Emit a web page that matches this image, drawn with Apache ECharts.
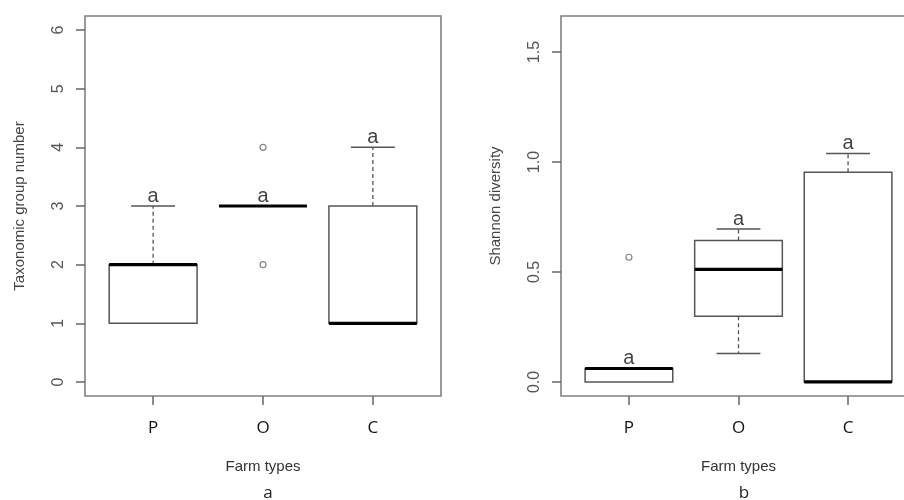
<!DOCTYPE html>
<html>
<head>
<meta charset="utf-8">
<script src="https://cdn.jsdelivr.net/npm/echarts@6.0.0/dist/echarts.min.js"></script>
<style>html,body{margin:0;padding:0;background:#fff}#c{width:904px;height:500px}</style>
</head>
<body>
<div id="c"></div>
<script>
// ---- data ----
const categories = ['P', 'O', 'C'];
// [position, min, q1, median, q3, max]
const taxonBoxes = [
  [1, 1, 1, 2, 2, 3],
  [2, 3, 3, 3, 3, 3],
  [3, 1, 1, 1, 3, 4]
];
const taxonOutliers = [[2, 4], [2, 2]];
const taxonLetters = [[1, 3], [2, 3], [3, 4]];

const shannonBoxes = [
  [1, 0, 0, 0.061, 0.061, 0.061],
  [2, 0.129, 0.299, 0.512, 0.643, 0.695],
  [3, 0, 0, 0, 0.953, 1.039]
];
const shannonOutliers = [[1, 0.567]];
const shannonLetters = [[1, 0.061], [2, 0.695], [3, 1.039]];

const taxonTicks = [0, 1, 2, 3, 4, 5, 6];
const shannonTicks = [0, 0.5, 1.0, 1.5];
const letterText = 'a';
const panelCaptions = ['a', 'b'];

// ---- style ----
const boxStroke = '#555';
const frameColor = '#808080';
const tickColor = '#666';
const labelColor = '#555';

function renderBox(params, api) {
  const x = api.value(0), mn = api.value(1), q1 = api.value(2),
        md = api.value(3), q3 = api.value(4), mx = api.value(5);
  const c = api.coord([x, md]);
  const cx = c[0];
  const yMd = c[1];
  const yQ1 = api.coord([x, q1])[1];
  const yQ3 = api.coord([x, q3])[1];
  const yMn = api.coord([x, mn])[1];
  const yMx = api.coord([x, mx])[1];
  const halfBox = api.size([0.8, 0])[0] / 2;
  const halfCap = api.size([0.4, 0])[0] / 2;
  const children = [];
  const whisk = {stroke: boxStroke, lineWidth: 1.3, lineDash: [4, 3]};
  const solid = {stroke: boxStroke, lineWidth: 1.5};
  if (mx > q3) {
    children.push({type: 'line', shape: {x1: cx, y1: yQ3, x2: cx, y2: yMx}, style: whisk});
    children.push({type: 'line', shape: {x1: cx - halfCap, y1: yMx, x2: cx + halfCap, y2: yMx}, style: solid});
  }
  if (mn < q1) {
    children.push({type: 'line', shape: {x1: cx, y1: yQ1, x2: cx, y2: yMn}, style: whisk});
    children.push({type: 'line', shape: {x1: cx - halfCap, y1: yMn, x2: cx + halfCap, y2: yMn}, style: solid});
  }
  children.push({type: 'rect', shape: {x: cx - halfBox, y: yQ3, width: 2 * halfBox, height: yQ1 - yQ3},
    style: {fill: '#fff', stroke: boxStroke, lineWidth: 1.5}});
  children.push({type: 'line', shape: {x1: cx - halfBox, y1: yMd, x2: cx + halfBox, y2: yMd},
    style: {stroke: '#000', lineWidth: 3.2}});
  return {type: 'group', children: children};
}

function makeX(idx, gridIndex) {
  return {
    type: 'value', gridIndex: gridIndex, min: 0.38, max: 3.62, position: 'bottom',
    splitLine: {show: false},
    axisLine: {show: false, onZero: false},
    axisTick: {show: true, customValues: [1, 2, 3], length: 9, lineStyle: {color: tickColor, width: 1.5}},
    axisLabel: {customValues: [1, 2, 3], formatter: v => categories[Math.round(v) - 1] || '',
      margin: 24, fontFamily: 'Open Sans', fontSize: 17, color: '#111'},
    name: 'Farm types', nameLocation: 'middle', nameGap: 63,
    nameTextStyle: {fontFamily: 'Liberation Sans', fontSize: 15, color: '#333'}
  };
}

function makeY(gridIndex, min, max, ticks, name, fmt) {
  return {
    type: 'value', gridIndex: gridIndex, min: min, max: max, position: 'left',
    splitLine: {show: false},
    axisLine: {show: false, onZero: false},
    axisTick: {show: true, customValues: ticks, length: 9, lineStyle: {color: tickColor, width: 1.5}},
    axisLabel: {customValues: ticks, rotate: 90, margin: 18, formatter: fmt,
      fontFamily: 'Liberation Sans', fontSize: 16, color: labelColor},
    name: name, nameLocation: 'middle', nameGap: 58, nameRotate: 90,
    nameTextStyle: {fontFamily: 'Liberation Sans', fontSize: 15, color: '#444'}
  };
}

function letterSeries(xi, yi, data) {
  return {
    type: 'scatter', xAxisIndex: xi, yAxisIndex: yi, data: data,
    symbolSize: 0, silent: true, z: 5,
    label: {show: true, position: 'top', distance: 0, formatter: () => letterText,
      fontFamily: 'Liberation Sans', fontSize: 20, color: '#111'}
  };
}

function outlierSeries(xi, yi, data) {
  return {
    type: 'scatter', xAxisIndex: xi, yAxisIndex: yi, data: data,
    symbol: 'circle', symbolSize: 6, silent: true, z: 4,
    itemStyle: {color: '#fff', borderColor: '#666', borderWidth: 1.2}
  };
}

const chart = echarts.init(document.getElementById('c'), null, {renderer: 'canvas'});
chart.setOption({
  animation: false,
  backgroundColor: '#fff',
  title: [
    {text: panelCaptions[0], left: 263, top: 480, textAlign: 'center',
      textStyle: {fontFamily: 'Open Sans', fontWeight: 'normal', fontSize: 17, color: '#222'}},
    {text: panelCaptions[1], left: 739, top: 480, textAlign: 'center',
      textStyle: {fontFamily: 'Open Sans', fontWeight: 'normal', fontSize: 17, color: '#222'}}
  ],
  grid: [
    {left: 85, top: 16, width: 356, height: 380, show: true, borderColor: frameColor, borderWidth: 1.6,
      backgroundColor: 'transparent', containLabel: false, outerBoundsMode: 'none'},
    {left: 561, top: 16, width: 355, height: 380, show: true, borderColor: frameColor, borderWidth: 1.6,
      backgroundColor: 'transparent', containLabel: false, outerBoundsMode: 'none'}
  ],
  xAxis: [makeX(0, 0), makeX(1, 1)],
  yAxis: [
    makeY(0, -0.24, 6.24, taxonTicks, 'Taxonomic group number', v => String(v)),
    makeY(1, -0.064, 1.664, shannonTicks, 'Shannon diversity', v => v.toFixed(1))
  ],
  series: [
    {type: 'custom', xAxisIndex: 0, yAxisIndex: 0, data: taxonBoxes, renderItem: renderBox, silent: true, z: 3},
    outlierSeries(0, 0, taxonOutliers),
    letterSeries(0, 0, taxonLetters),
    {type: 'custom', xAxisIndex: 1, yAxisIndex: 1, data: shannonBoxes, renderItem: renderBox, silent: true, z: 3},
    outlierSeries(1, 1, shannonOutliers),
    letterSeries(1, 1, shannonLetters)
  ]
});
</script>
</body>
</html>
